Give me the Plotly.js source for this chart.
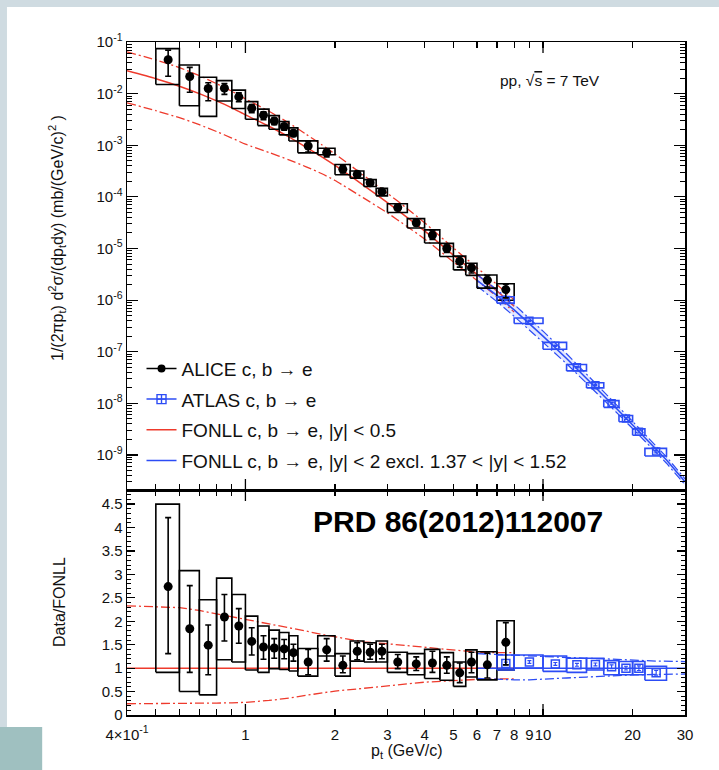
<!DOCTYPE html>
<html><head><meta charset="utf-8">
<script src="https://cdn.plot.ly/plotly-3.0.1.min.js"></script>
<style>html,body{margin:0;padding:0;background:#fff;} #chart{width:719px;height:770px;}</style>
</head><body><div id="chart"></div>
<script>
// ---------------- ALICE c,b -> e ----------------
const alicePt    = [0.55,0.65,0.75,0.85,0.95,1.05,1.15,1.25,1.35,1.45,1.625,1.875,2.125,2.375,2.625,2.875,3.25,3.75,4.25,4.75,5.25,5.75,6.5,7.5];
const aliceBinLo = [0.5,0.6,0.7,0.8,0.9,1.0,1.1,1.2,1.3,1.4,1.5,1.75,2.0,2.25,2.5,2.75,3.0,3.5,4.0,4.5,5.0,5.5,6.0,7.0];
const aliceBinHi = [0.6,0.7,0.8,0.9,1.0,1.1,1.2,1.3,1.4,1.5,1.75,2.0,2.25,2.5,2.75,3.0,3.5,4.0,4.5,5.0,5.5,6.0,7.0,8.0];
const aliceXsec  = [0.0454,0.0215,0.0126,0.0128,0.00867,0.00522,0.00383,0.00296,0.00231,0.00171,0.00097,0.000721,0.000342,0.000273,0.000188,0.000126,6.2e-5,3.16e-5,1.82e-5,1.0e-5,5.67e-6,4.21e-6,2.43e-6,1.6e-6];
const aliceRatio = [2.74,1.84,1.49,2.09,1.90,1.57,1.45,1.43,1.41,1.33,1.13,1.39,1.06,1.36,1.34,1.36,1.13,1.09,1.11,1.06,0.90,1.13,1.07,1.55];
const aliceStatHi= [4.21,2.76,1.92,2.57,2.27,1.86,1.69,1.63,1.61,1.51,1.40,1.63,1.26,1.54,1.51,1.51,1.29,1.24,1.36,1.24,1.11,1.34,1.32,1.97];
const aliceStatLo= [1.31,0.91,0.86,1.58,1.53,1.28,1.19,1.21,1.20,1.15,0.86,1.15,0.90,1.18,1.19,1.20,0.99,0.95,0.91,0.89,0.69,0.90,0.79,1.07];
const aliceSysHi = [4.50,3.08,2.46,2.92,2.57,2.11,1.90,1.81,1.76,1.69,1.42,1.69,1.31,1.58,1.54,1.58,1.34,1.31,1.40,1.33,1.13,1.39,1.35,2.01];
const aliceSysLo = [0.91,0.50,0.43,1.18,1.13,0.96,0.91,0.99,0.97,0.94,0.83,1.26,0.83,1.15,1.13,1.13,0.91,0.86,0.78,0.74,0.61,0.81,0.75,0.96];

// ---------------- ATLAS c,b -> e ----------------
const atlasPt    = [7.5,9,11,13,15,17,19,21,24];
const atlasBinLo = [7,8,10,12,14,16,18,20,22];
const atlasBinHi = [8,10,12,14,16,18,20,22,26];
const atlasXsec  = [1.0e-6,3.98e-7,1.31e-7,4.99e-8,2.24e-8,1.0e-8,5.1e-9,2.8e-9,1.16e-9];
const atlasRatio = [1.10,1.13,1.09,1.07,1.08,1.03,1.00,1.00,0.90];
const atlasStatHi= [1.13,1.16,1.12,1.10,1.11,1.07,1.04,1.05,0.95];
const atlasStatLo= [1.07,1.10,1.06,1.04,1.05,0.99,0.96,0.95,0.85];
const atlasSysHi = [1.28,1.28,1.26,1.21,1.21,1.16,1.14,1.14,1.04];
const atlasSysLo = [0.96,1.00,0.93,0.91,0.96,0.86,0.86,0.86,0.74];

// ---------------- FONLL |y|<0.5 (red) ----------------
const fonllRedPt   = [0.4,0.5,0.6,0.7,0.8,0.9,1.0,1.2,1.4,1.6,1.8,2.0,2.5,3.0,3.5,4.0,5.0,6.0,7.0,8.0];
const fonllRedXsec = [0.0277,0.0195,0.01396,0.0100,0.00724,0.00531,0.00389,0.00234,0.00145,0.000912,0.000603,0.000407,0.000166,7.76e-5,3.98e-5,2.19e-5,7.41e-6,3.16e-6,1.51e-6,7.59e-7];
const fonllRedUpRatio  = [2.33,2.31,2.29,2.23,2.16,2.10,2.04,1.95,1.86,1.79,1.72,1.67,1.56,1.52,1.48,1.44,1.38,1.34,1.33,1.33];
const fonllRedLowRatio = [0.24,0.24,0.245,0.25,0.255,0.26,0.27,0.31,0.36,0.42,0.47,0.51,0.57,0.63,0.665,0.70,0.74,0.76,0.77,0.77];
const fonllRedRatioPt  = [0.4,8];
const fonllRedRatioVal = [1,1];

// ---------------- FONLL |y|<2 excl. (blue) ----------------
const fonllBluePt   = [6,7,8,9,10,12,14,16,18,20,22,24,26,30];
const fonllBlueXsec = [2.40e-6,1.23e-6,6.46e-7,3.55e-7,2.0e-7,7.41e-8,3.09e-8,1.41e-8,7.08e-9,3.80e-9,2.14e-9,1.29e-9,7.94e-10,3.02e-10];
const fonllBlueUpRatio  = [1.31,1.29,1.28,1.26,1.25,1.23,1.21,1.20,1.18,1.17,1.16,1.15,1.15,1.14];
const fonllBlueLowRatio = [0.78,0.76,0.75,0.75,0.76,0.79,0.81,0.83,0.845,0.855,0.86,0.865,0.87,0.875];
const fonllBlueRatioPt  = [6,30];
const fonllBlueRatioVal = [1,1];

// tick labels
const xTickVals = [0.4,1,2,3,4,5,6,7,8,9,10,20,30];
const xTickText = ['4×10<sup>-1</sup>','1','2','3','4','5','6','7','8','9','10','20','30'];
const yTickExp  = [-9,-8,-7,-6,-5,-4,-3,-2,-1];

// ---------------- styling ----------------
const RED = '#ee3a2c', BLUE = '#2c4cf5', BLK = '#000';
const FONT = 'Liberation Sans, Arial, Helvetica, sans-serif';
const DASHDOT = '9px,3px,2px,3px';

function boxPath(lo, hi, yl, yh) {
  const xs = [], ys = [];
  for (let i = 0; i < lo.length; i++) {
    xs.push(lo[i], hi[i], hi[i], lo[i], lo[i], null);
    ys.push(yl[i], yl[i], yh[i], yh[i], yl[i], null);
  }
  return {x: xs, y: ys};
}
const scale = (vals, num, den) => vals.map((v, i) => v * num[i] / den[i]);
const times = (a, b) => a.map((v, i) => v * b[i]);

const traces = [];
// ---- top panel FONLL ----
traces.push({x: fonllRedPt, y: times(fonllRedXsec, fonllRedLowRatio), mode: 'lines', line: {color: RED, width: 1.3, dash: DASHDOT, shape: 'spline', smoothing: 0.6}, showlegend: false, xaxis: 'x', yaxis: 'y', hoverinfo: 'skip'});
traces.push({x: fonllRedPt, y: times(fonllRedXsec, fonllRedUpRatio), mode: 'lines', line: {color: RED, width: 1.3, dash: DASHDOT, shape: 'spline', smoothing: 0.6}, showlegend: false, xaxis: 'x', yaxis: 'y', hoverinfo: 'skip'});
traces.push({x: fonllRedPt, y: fonllRedXsec, mode: 'lines', line: {color: RED, width: 1.5, shape: 'spline', smoothing: 0.6}, name: 'FONLL c, b → e, |y| < 0.5', legendgroup: 'c', legendrank: 3, xaxis: 'x', yaxis: 'y'});
traces.push({x: fonllBluePt, y: times(fonllBlueXsec, fonllBlueLowRatio), mode: 'lines', line: {color: BLUE, width: 1.2, dash: DASHDOT}, showlegend: false, xaxis: 'x', yaxis: 'y', hoverinfo: 'skip'});
traces.push({x: fonllBluePt, y: times(fonllBlueXsec, fonllBlueUpRatio), mode: 'lines', line: {color: BLUE, width: 1.2, dash: DASHDOT}, fill: 'tonexty', fillcolor: 'rgba(70,100,255,0.15)', showlegend: false, xaxis: 'x', yaxis: 'y', hoverinfo: 'skip'});
traces.push({x: fonllBluePt, y: fonllBlueXsec, mode: 'lines', line: {color: BLUE, width: 1.5}, name: 'FONLL c, b → e, |y| < 2 excl. 1.37 < |y| < 1.52', legendgroup: 'd', legendrank: 4, xaxis: 'x', yaxis: 'y'});

// ---- top panel data ----
const aBoxTop = boxPath(aliceBinLo, aliceBinHi, scale(aliceXsec, aliceSysLo, aliceRatio), scale(aliceXsec, aliceSysHi, aliceRatio));
traces.push({x: aBoxTop.x, y: aBoxTop.y, mode: 'lines', line: {color: BLK, width: 1.6}, showlegend: false, xaxis: 'x', yaxis: 'y', hoverinfo: 'skip'});
const tBoxTop = boxPath(atlasBinLo, atlasBinHi, scale(atlasXsec, atlasSysLo, atlasRatio), scale(atlasXsec, atlasSysHi, atlasRatio));
traces.push({x: tBoxTop.x, y: tBoxTop.y, mode: 'lines', line: {color: BLUE, width: 1.6}, showlegend: false, xaxis: 'x', yaxis: 'y', hoverinfo: 'skip'});
traces.push({x: atlasPt, y: atlasXsec, mode: 'markers', marker: {symbol: 'square-open', size: 7, color: BLUE, line: {width: 1.5}},
  error_y: {type: 'data', symmetric: false, array: atlasXsec.map((v,i)=>v*(atlasStatHi[i]/atlasRatio[i]-1)), arrayminus: atlasXsec.map((v,i)=>v*(1-atlasStatLo[i]/atlasRatio[i])), color: BLUE, thickness: 1.2, width: 2},
  showlegend: false, xaxis: 'x', yaxis: 'y'});
traces.push({x: alicePt, y: aliceXsec, mode: 'markers', marker: {symbol: 'circle', size: 9, color: BLK},
  error_y: {type: 'data', symmetric: false, array: aliceXsec.map((v,i)=>v*(aliceStatHi[i]/aliceRatio[i]-1)), arrayminus: aliceXsec.map((v,i)=>v*(1-aliceStatLo[i]/aliceRatio[i])), color: BLK, thickness: 1.6, width: 3},
  showlegend: false, xaxis: 'x', yaxis: 'y'});
// legend entries for data
traces.push({x: [null], y: [null], mode: 'lines+markers', line: {color: BLK, width: 1.5}, marker: {symbol: 'circle', size: 8, color: BLK}, name: 'ALICE c, b → e', legendgroup: 'a', legendrank: 1, xaxis: 'x', yaxis: 'y'});
traces.push({x: [null], y: [null], mode: 'lines+markers', line: {color: BLUE, width: 1.5}, marker: {symbol: 'square-cross-open', size: 9, color: BLUE, line: {width: 1.4}}, name: 'ATLAS c, b → e', legendgroup: 'b', legendrank: 2, xaxis: 'x', yaxis: 'y'});

// ---- bottom panel ----
traces.push({x: fonllRedPt, y: fonllRedLowRatio, mode: 'lines', line: {color: RED, width: 1.3, dash: DASHDOT}, showlegend: false, xaxis: 'x2', yaxis: 'y2', hoverinfo: 'skip'});
traces.push({x: fonllRedPt, y: fonllRedUpRatio, mode: 'lines', line: {color: RED, width: 1.3, dash: DASHDOT}, showlegend: false, xaxis: 'x2', yaxis: 'y2', hoverinfo: 'skip'});
traces.push({x: fonllRedRatioPt, y: fonllRedRatioVal, mode: 'lines', line: {color: RED, width: 1.5}, showlegend: false, xaxis: 'x2', yaxis: 'y2', hoverinfo: 'skip'});
traces.push({x: fonllBluePt, y: fonllBlueLowRatio, mode: 'lines', line: {color: BLUE, width: 1.3, dash: DASHDOT}, showlegend: false, xaxis: 'x2', yaxis: 'y2', hoverinfo: 'skip'});
traces.push({x: fonllBluePt, y: fonllBlueUpRatio, mode: 'lines', line: {color: BLUE, width: 1.3, dash: DASHDOT}, showlegend: false, xaxis: 'x2', yaxis: 'y2', hoverinfo: 'skip'});
traces.push({x: fonllBlueRatioPt, y: fonllBlueRatioVal, mode: 'lines', line: {color: BLUE, width: 1.5}, showlegend: false, xaxis: 'x2', yaxis: 'y2', hoverinfo: 'skip'});
const aBoxR = boxPath(aliceBinLo, aliceBinHi, aliceSysLo, aliceSysHi);
traces.push({x: aBoxR.x, y: aBoxR.y, mode: 'lines', line: {color: BLK, width: 1.6}, showlegend: false, xaxis: 'x2', yaxis: 'y2', hoverinfo: 'skip'});
const tBoxR = boxPath(atlasBinLo, atlasBinHi, atlasSysLo, atlasSysHi);
traces.push({x: tBoxR.x, y: tBoxR.y, mode: 'lines', line: {color: BLUE, width: 1.6}, showlegend: false, xaxis: 'x2', yaxis: 'y2', hoverinfo: 'skip'});
traces.push({x: atlasPt, y: atlasRatio, mode: 'markers', marker: {symbol: 'square-open', size: 8, color: BLUE, line: {width: 1.5}},
  error_y: {type: 'data', symmetric: false, array: atlasRatio.map((v,i)=>atlasStatHi[i]-v), arrayminus: atlasRatio.map((v,i)=>v-atlasStatLo[i]), color: BLUE, thickness: 1.2, width: 2},
  showlegend: false, xaxis: 'x2', yaxis: 'y2'});
traces.push({x: alicePt, y: aliceRatio, mode: 'markers', marker: {symbol: 'circle', size: 9, color: BLK},
  error_y: {type: 'data', symmetric: false, array: aliceRatio.map((v,i)=>aliceStatHi[i]-v), arrayminus: aliceRatio.map((v,i)=>v-aliceStatLo[i]), color: BLK, thickness: 1.6, width: 3},
  showlegend: false, xaxis: 'x2', yaxis: 'y2'});

// tick positions
const yMinorLog = [];
for (let e = -10; e <= -2; e++) for (let d = 2; d <= 9; d++) yMinorLog.push(d * Math.pow(10, e));
const yMajorVals = yTickExp.map(e => Math.pow(10, e));
const yMajorText = yTickExp.map(e => '10<sup>' + e + '</sup>');
const xMinor = [0.5,0.6,0.7,0.8,0.9];

const xRange = [Math.log10(0.4), Math.log10(30)];
const xCommon = {
  type: 'log', range: xRange, showline: true, linecolor: BLK, linewidth: 1.5, mirror: 'allticks',
  ticks: 'inside', ticklen: 6, tickwidth: 1.2, tickcolor: BLK, tickangle: 0,
  tickmode: 'array', tickvals: xTickVals, ticktext: xTickText,
  minor: {tickmode: 'array', tickvals: xMinor, ticks: 'inside', ticklen: 6, tickwidth: 1.2, tickcolor: BLK, showgrid: false},
  showgrid: false, zeroline: false, tickfont: {family: FONT, size: 15, color: '#111'}
};

// long ticks at 1 and 10 + slide background
const shapes = [
  {type: 'rect', xref: 'paper', yref: 'paper', x0: -0.23, x1: -0.2151, y0: -0.02, y1: 1.07, fillcolor: '#cfdbe1', line: {width: 0}, layer: 'below'},
  {type: 'rect', xref: 'paper', yref: 'paper', x0: -0.23, x1: 1.07, y0: 1.052, y1: 1.07, fillcolor: '#cfdbe1', line: {width: 0}, layer: 'below'},
  {type: 'rect', xref: 'paper', yref: 'paper', x0: -0.23, x1: -0.152, y0: -0.085, y1: -0.0178, fillcolor: '#9fc0c0', line: {width: 0}, layer: 'below'}
];
[1, 10].forEach(v => {
  [['x','y domain',0,11],['x','y domain',1,-11],['x2','y2 domain',0,11],['x2','y2 domain',1,-11]].forEach(([xr, yr, anc, len]) => {
    shapes.push({type: 'line', xref: xr, yref: yr, ysizemode: 'pixel', yanchor: anc, x0: v, x1: v, y0: 0, y1: len, line: {color: BLK, width: 1.3}});
  });
});

const layout = {
  width: 719, height: 770,
  margin: {l: 127, r: 34, t: 42, b: 55},
  paper_bgcolor: '#ffffff', plot_bgcolor: '#ffffff',
  font: {family: FONT, color: '#111'},
  showlegend: true,
  legend: {x: 0.026, y: 0.543, xanchor: 'left', yanchor: 'top', bgcolor: 'rgba(0,0,0,0)', borderwidth: 0,
           font: {family: FONT, size: 19, color: '#111'}, tracegroupgap: 3, itemwidth: 30, traceorder: 'grouped'},
  xaxis: Object.assign({}, xCommon, {anchor: 'y', domain: [0, 1], showticklabels: false, matches: 'x2'}),
  xaxis2: Object.assign({}, xCommon, {anchor: 'y2', domain: [0, 1], ticklabelstandoff: 5}),
  yaxis: {type: 'log', domain: [0.3343, 1], range: [-9.68, -0.999], anchor: 'x',
    showline: true, linecolor: BLK, linewidth: 1.5, mirror: 'allticks',
    ticks: 'inside', ticklen: 11, tickwidth: 1.2, tickcolor: BLK,
    tickmode: 'array', tickvals: yMajorVals, ticktext: yMajorText,
    minor: {tickmode: 'array', tickvals: yMinorLog, ticks: 'inside', ticklen: 5, tickwidth: 1, tickcolor: BLK, showgrid: false},
    showgrid: false, zeroline: false, tickfont: {family: FONT, size: 15, color: '#111'}},
  yaxis2: {domain: [0, 0.3343], range: [0, 4.8], anchor: 'x2',
    showline: true, linecolor: BLK, linewidth: 1.5, mirror: 'allticks',
    ticks: 'inside', ticklen: 8, tickwidth: 1.2, tickcolor: BLK, tick0: 0, dtick: 0.5,
    minor: {dtick: 0.1, ticks: 'inside', ticklen: 4, tickwidth: 1, tickcolor: BLK, showgrid: false},
    showgrid: false, zeroline: false, tickfont: {family: FONT, size: 15, color: '#111'}},
  shapes: shapes,
  annotations: [
    {text: 'pp, √<span style="text-decoration:overline">s</span> = 7 TeV', xref: 'paper', yref: 'paper', x: 0.758, y: 0.9435, xanchor: 'center', yanchor: 'middle', showarrow: false, font: {family: FONT, size: 15.5, color: '#111'}},
    {text: '<b>PRD 86(2012)112007</b>', xref: 'paper', yref: 'paper', x: 0.593, y: 0.288, xanchor: 'center', yanchor: 'middle', showarrow: false, font: {family: FONT, size: 30, color: '#000'}},
    {text: '1/(2πp<sub>t</sub>) d<sup>2</sup>σ/(dp<sub>t</sub>dy) (mb/(GeV/c)<sup>2</sup> )', textangle: -90, xref: 'paper', yref: 'paper', x: -0.1254, y: 0.7088, xanchor: 'center', yanchor: 'middle', showarrow: false, font: {family: FONT, size: 16, color: '#111'}},
    {text: 'Data/FONLL', textangle: -90, xref: 'paper', yref: 'paper', x: -0.12, y: 0.168, xanchor: 'center', yanchor: 'middle', showarrow: false, font: {family: FONT, size: 16, color: '#111'}},
    {text: 'p<sub>t</sub> (GeV/c)', xref: 'paper', yref: 'paper', x: 0.502, y: -0.054, xanchor: 'center', yanchor: 'middle', showarrow: false, font: {family: FONT, size: 16, color: '#111'}}
  ]
};

Plotly.newPlot('chart', traces, layout, {staticPlot: true, displayModeBar: false});
</script>
</body></html>
